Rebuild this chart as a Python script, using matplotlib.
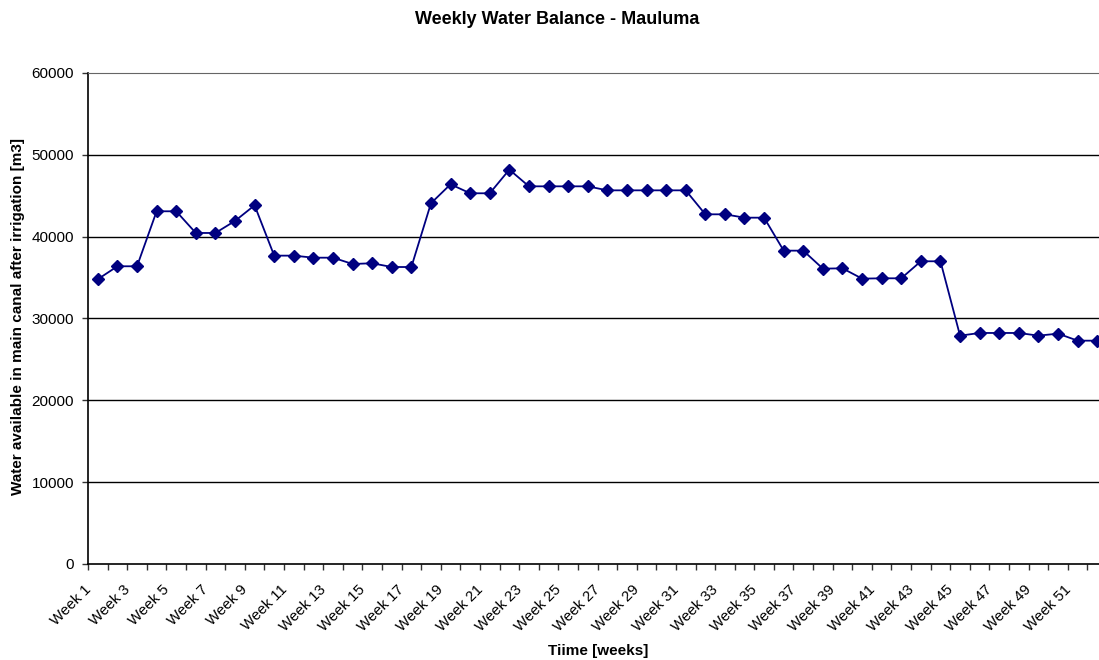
import matplotlib.pyplot as plt
import numpy as np

plt.rcParams['font.family'] = ['Liberation Sans', 'DejaVu Sans']

# weekly water left in main canal after irrigation [m3]
weeks = ["Week " + str(i) for i in range(1, 53)]
water = [34800, 36380, 36380, 43100, 43100, 40450, 40450, 41920, 43830, 37680,
         37680, 37430, 37430, 36660, 36750, 36290, 36290, 44080, 46400, 45300,
         45300, 48190, 46150, 46150, 46150, 46150, 45660, 45660, 45660, 45660,
         45660, 42730, 42730, 42320, 42320, 38290, 38290, 36090, 36130, 34870,
         34910, 34910, 36990, 36990, 27900, 28230, 28230, 28230, 27900, 28150,
         27290, 27290]
yticks = [0, 10000, 20000, 30000, 40000, 50000, 60000]

fig = plt.figure(figsize=(10.99, 6.6), dpi=100)
# right end of the category axis runs off the figure, as in the original
ax = fig.add_axes([0.0801, 0.1455, 0.9272, 0.7439])

xs = np.arange(len(water)) + 0.5
ax.plot(xs, water, color="#000080", lw=1.3, marker="D", markersize=6.3,
        markerfacecolor="#000080", markeredgecolor="#000080", clip_on=False)

ax.set_xlim(0, len(water))
ax.set_ylim(0, 60000)
ax.set_yticks(yticks)
ax.set_yticklabels([str(v) for v in yticks], fontsize=11)
for v in yticks[1:-1]:
    ax.axhline(v, color="black", lw=1.0, zorder=0)

# category boundaries get the ticks, odd weeks get the labels
ax.set_xticks(np.arange(0, len(water) + 1))
ax.set_xticklabels([])
ax.tick_params(axis="x", direction="out", length=4, width=1, color="#333333")
ax.tick_params(axis="y", direction="out", length=4, width=1, color="#333333", pad=6)
for i in range(0, len(weeks), 2):
    ax.text(xs[i] - 0.72, -2300, weeks[i], rotation=45, ha="right", va="top",
            rotation_mode="anchor", fontsize=10.8, clip_on=False)

for side in ["right"]:
    ax.spines[side].set_visible(False)
ax.spines["top"].set_color("#666666")
ax.spines["left"].set_linewidth(1.2)
ax.spines["bottom"].set_linewidth(1.2)

fig.text(0.507, 0.971, "Weekly Water Balance - Mauluma", ha="center", va="center",
         fontsize=13, fontweight="bold")
fig.text(0.544, 0.014, "Tiime [weeks]", ha="center", va="center",
         fontsize=11, fontweight="bold")
fig.text(0.0165, 0.52, "Water available in main canal after irrigation [m3]",
         rotation=90, ha="center", va="center", fontsize=11, fontweight="bold")

fig.savefig("out.png", dpi=100)
